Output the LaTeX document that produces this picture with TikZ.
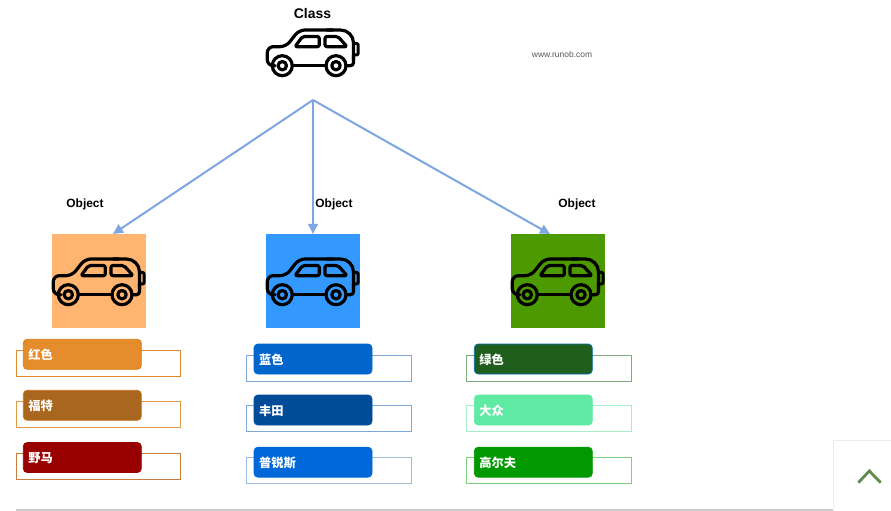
\documentclass[tikz,border=0pt]{standalone}
\usepackage{fontspec}
\setmainfont{Liberation Sans}
\newfontfamily\cjkfont{Noto Sans CJK SC}
\usetikzlibrary{arrows.meta}
\definecolor{arrowblue}{HTML}{7EA6E0}
\definecolor{sqorange}{HTML}{FFB570}
\definecolor{sqblue}{HTML}{3399FF}
\definecolor{sqgreen}{HTML}{4D9900}
\definecolor{chev}{HTML}{5F8A50}
\definecolor{frameOrangeA}{HTML}{E08A30}
\definecolor{frameOrangeB}{HTML}{E09A4A}
\definecolor{frameOrangeC}{HTML}{C87D3C}
\definecolor{frameBlue}{HTML}{7FA8D6}
\definecolor{frameBlueLight}{HTML}{9DBCDF}
\definecolor{frameGreenA}{HTML}{7FA87F}
\definecolor{frameGreenB}{HTML}{A8F0C8}
\definecolor{frameGreenC}{HTML}{80D080}
\definecolor{ba}{HTML}{E58C2C}
\definecolor{bas}{HTML}{D97B10}
\definecolor{bb}{HTML}{A8661E}
\definecolor{bbs}{HTML}{C8741A}
\definecolor{bc}{HTML}{990000}
\definecolor{bd}{HTML}{0066CC}
\definecolor{be}{HTML}{004C99}
\definecolor{bf}{HTML}{0068D9}
\definecolor{bg}{HTML}{205E1E}
\definecolor{bgs}{HTML}{006EAF}
\definecolor{bh}{HTML}{60EBA5}
\definecolor{bi}{HTML}{009900}
\tikzset{
  carpic/.pic={
    \begin{scope}[line width=3.2bp,line join=round,line cap=round,draw=black]
      \draw[rounded corners=6bp] (-38,13.7) -- (-45.7,13.7) -- (-45.7,-5.3) -- (-27,-5.3) -- (-14,-22) -- (20,-22);
      \draw[rounded corners=13bp] (14,-22) -- (40.5,-22) -- (40.5,8);
      \draw[rounded corners=3bp] (40.5,3) -- (40.5,13.7) -- (33,13.7);
      \draw (-20.7,13.7) -- (13,13.7);
      \draw (-30.7,13.7) circle (10bp);
      \draw (-30.7,13.7) circle (4.2bp);
      \draw (23,13.7) circle (10bp);
      \draw (23,13.7) circle (4.2bp);
      \draw[rounded corners=2bp] (-18,-5.3) -- (-10.5,-15.5) -- (6.3,-15.5) -- (6.3,-5.3) -- cycle;
      \draw[rounded corners=2bp] (12,-15.5) -- (25,-15.5) -- (34,-5.3) -- (12,-5.3) -- cycle;
      \draw[line width=3bp,rounded corners=1bp] (40.5,-8.5) -- (45,-8.5) -- (45,3) -- (40.5,3);
    \end{scope}
  },
  square/.style={minimum size=94bp,inner sep=0pt,outer sep=0pt,fill=#1},
  frameL/.style={minimum height=26bp,minimum width=164.4bp,inner sep=0pt,outer sep=0pt,draw=#1,line width=1bp},
  frameM/.style={minimum height=26bp,minimum width=165bp,inner sep=0pt,outer sep=0pt,draw=#1,line width=1bp},
  itembox/.style n args={2}{minimum height=30bp,text width=108bp,text height=11bp,text depth=0.6bp,align=left,inner sep=5bp,
    outer sep=0pt,rounded corners=4bp,fill=#1,draw=#2,line width=0.8bp,text=white,font=\cjkfont\bfseries\fontsize{12.3}{12.3}\selectfont},
  flow/.style={draw=arrowblue,line width=2bp,-{Triangle[length=10bp,width=9.5bp]}},
  heading/.style={inner sep=0pt,font=\bfseries\fontsize{12}{12}\selectfont},
}
\begin{document}
\begin{tikzpicture}[x=1bp,y=-1bp]
\useasboundingbox[fill=white] (0,0) rectangle (891,511);

% text
\node[heading,font=\bfseries\fontsize{14}{14}\selectfont] (classlabel) at (312.5,13.6) {Class};
\node[inner sep=0pt,text=black!65,font=\fontsize{8.5}{8.5}\selectfont] (site) at (562,54) {www.runob.com};
\node[heading] (obj1) at (85,204.7) {Object};
\node[heading] (obj2) at (334,204.7) {Object};
\node[heading] (obj3) at (577,204.7) {Object};

% squares with cars
\node[square=sqorange] (sq1) at (99,281) {};
\node[square=sqblue] (sq2) at (313,281) {};
\node[square=sqgreen] (sq3) at (558,281) {};
\pic at (313,52) {carpic};
\pic at (99,281) {carpic};
\pic at (313,281) {carpic};
\pic at (558,281) {carpic};

% connectors
\coordinate (hub) at (313,100);
\coordinate (tip1) at (113,234);
\coordinate (tip2) at (313,234);
\coordinate (tip3) at (550,234);
\draw[flow] (hub) -- (tip1);
\draw[flow] (hub) -- (tip2);
\draw[flow] (hub) -- (tip3);

% frames
\node[frameL=frameOrangeA] (f1) at (98.5,363.3) {};
\node[frameL=frameOrangeB] (f2) at (98.5,414) {};
\node[frameL=frameOrangeC] (f3) at (98.5,466.2) {};
\node[frameM=frameBlue] (f4) at (329,368) {};
\node[frameM=frameBlue] (f5) at (329,418.7) {};
\node[frameM=frameBlueLight] (f6) at (329,470.5) {};
\node[frameM=frameGreenA] (f7) at (549.2,368) {};
\node[frameM=frameGreenB] (f8) at (549.2,418.7) {};
\node[frameM=frameGreenC] (f9) at (549.2,470.5) {};

% boxes
\node[itembox={ba}{bas}] (b1) at (82.3,354.3) {红色};
\node[itembox={bb}{bbs}] (b2) at (82.3,405.3) {福特};
\node[itembox={bc}{bc}] (b3) at (82.3,457.5) {野马};
\node[itembox={bd}{bd}] (b4) at (313,359) {蓝色};
\node[itembox={be}{be}] (b5) at (313,410) {丰田};
\node[itembox={bf}{bf}] (b6) at (313,462.2) {普锐斯};
\node[itembox={bg}{bgs}] (b7) at (533.3,359) {绿色};
\node[itembox={bh}{bh}] (b8) at (533.3,410) {大众};
\node[itembox={bi}{bi}] (b9) at (533.3,462.2) {高尔夫};

% page furniture
\draw[draw=black!20,line width=1.8bp] (16,510) -- (833,510);
\draw[draw=black!7,line width=1bp] (891,440.3) -- (833.5,440.3) -- (833.5,511);
\draw[draw=chev,line width=2.8bp] (858.3,482.7) -- (869.3,471) -- (880.7,482.7);
\end{tikzpicture}
\end{document}
